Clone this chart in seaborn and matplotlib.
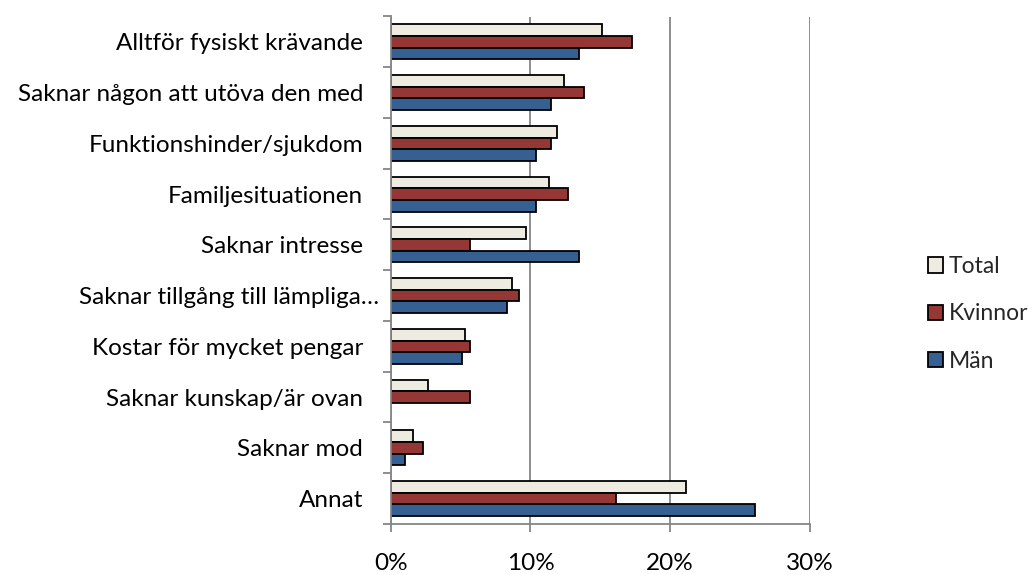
import numpy as np
import pandas as pd
import matplotlib
matplotlib.use("Agg")
import matplotlib.pyplot as plt
import matplotlib.transforms as mtransforms
from matplotlib.patches import Patch
import seaborn as sns

categories = ["Alltför fysiskt krävande", "Saknar någon att utöva den med",
              "Funktionshinder/sjukdom", "Familjesituationen", "Saknar intresse",
              "Saknar tillgång till lämpliga…", "Kostar för mycket pengar",
              "Saknar kunskap/är ovan", "Saknar mod", "Annat"]
series = ["Total", "Kvinnor", "Män"]
total = [15.1, 12.4, 11.9, 11.3, 9.7, 8.65, 5.35, 2.7, 1.6, 21.1]
kvinnor = [17.3, 13.8, 11.5, 12.7, 5.7, 9.2, 5.7, 5.7, 2.3, 16.1]
man = [13.5, 11.5, 10.4, 10.4, 13.5, 8.3, 5.1, 0.0, 1.0, 26.1]
xticks = [0, 10, 20, 30]
colors = ["#EEECE1", "#953735", "#376092"]

sns.set_theme(style="white")
plt.rcParams["font.family"] = ["Lato", "DejaVu Sans"]
FS = 17.5

df = pd.DataFrame({
    "cat": categories * 3,
    "val": total + kvinnor + man,
    "serie": [s for s in series for _ in categories],
})

fig = plt.figure(figsize=(10.35, 5.75), dpi=100)
ax = fig.add_axes([390.7 / 1035, 1 - 524 / 575, (810 - 390.7) / 1035, (524 - 16.5) / 575])

sns.barplot(data=df, y="cat", x="val", hue="serie", order=categories,
            hue_order=series, palette=colors, orient="h", width=0.69,
            edgecolor="black", linewidth=1.3, ax=ax, legend=False,
            errorbar=None, saturation=1)

for p in ax.patches:
    if p.get_width() == 0:
        p.set_linewidth(0)

ax.set_xlim(0, 30)
ax.set_ylim(len(categories) - 0.5, -0.5)
ax.set_xticks(xticks)
ax.set_xticklabels([f"{t}%" for t in xticks])
ax.set_xlabel("")
ax.set_ylabel("")
ax.grid(axis="x", color="#868686", linewidth=1.3)
ax.set_axisbelow(True)
for s in ["top", "right"]:
    ax.spines[s].set_visible(False)
for s in ["left", "bottom"]:
    ax.spines[s].set_color("#868686")
    ax.spines[s].set_linewidth(1.3)

ax.set_yticks(np.arange(-0.5, len(categories) + 0.5, 1), minor=True)
ax.tick_params(axis="y", which="minor", length=6, width=1.3, color="#868686", left=True)
ax.tick_params(axis="y", which="major", length=0, pad=20, labelsize=FS, labelcolor="black")
ax.tick_params(axis="x", which="major", length=6, width=1.3, color="#868686",
               bottom=True, pad=15, labelsize=FS, labelcolor="black")

# truncated label sits closer to the axis
lab = ax.get_yticklabels()[5]
lab.set_transform(lab.get_transform() + mtransforms.ScaledTranslation(16 / 100, 0, fig.dpi_scale_trans))

handles = [Patch(facecolor=c, edgecolor="black", linewidth=1.3) for c in colors]
fig.legend(handles, series, loc="center left", bbox_to_anchor=(928 / 1035, 1 - 314 / 575),
           frameon=False, fontsize=16.5, handlelength=0.65, handleheight=0.65,
           handletextpad=0.25, labelspacing=1.15, borderaxespad=0, borderpad=0)

fig.savefig("out.png", dpi=100)
